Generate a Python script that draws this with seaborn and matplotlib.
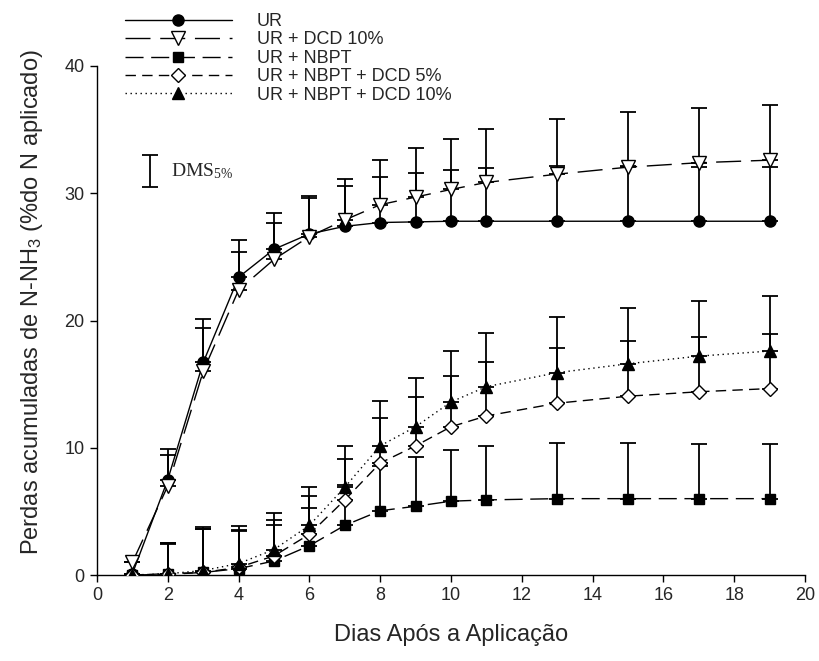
import numpy as np
import pandas as pd
import matplotlib
matplotlib.use("Agg")
import matplotlib.pyplot as plt
import seaborn as sns

# ---------------- data ----------------
days = [1, 2, 3, 4, 5, 6, 7, 8, 9, 10, 11, 13, 15, 17, 19]
ur = [0.1, 7.5, 16.7, 23.4, 25.6, 26.8, 27.4, 27.7, 27.75, 27.8, 27.8, 27.8, 27.8, 27.8, 27.8]
ur_dcd10 = [1.0, 7.0, 16.0, 22.4, 24.8, 26.6, 27.9, 29.1, 29.7, 30.3, 30.85, 31.5, 32.05, 32.4, 32.6]
ur_nbpt = [0.0, 0.05, 0.2, 0.5, 1.1, 2.3, 3.9, 5.05, 5.4, 5.8, 5.9, 6.0, 6.0, 6.0, 6.0]
ur_nbpt_dcd5 = [0.0, 0.1, 0.2, 0.6, 1.5, 3.2, 5.9, 8.8, 10.15, 11.65, 12.5, 13.5, 14.05, 14.4, 14.65]
ur_nbpt_dcd10 = [0.0, 0.1, 0.35, 0.9, 2.0, 3.9, 6.9, 10.15, 11.65, 13.6, 14.8, 15.9, 16.6, 17.2, 17.6]
# upper error (DMS) per day
dms = [0.0, 2.4, 3.4, 2.95, 2.85, 3.0, 3.2, 3.55, 3.85, 4.0, 4.2, 4.35, 4.35, 4.3, 4.3]

labels = ["UR", "UR + DCD 10%", "UR + NBPT", "UR + NBPT + DCD 5%", "UR + NBPT + DCD 10%"]
series = [ur, ur_dcd10, ur_nbpt, ur_nbpt_dcd5, ur_nbpt_dcd10]

xlabel = "Dias Após a Aplicação"
ylabel = "Perdas acumuladas de N-NH$\\mathregular{_3}$ (%do N aplicado)"
xticks = list(range(0, 21, 2))
yticks = [0, 10, 20, 30, 40]

# DMS key (legend-like I-beam)
dms_key_x, dms_key_y, dms_key_half = 1.5, 31.75, 1.25

# ---------------- style ----------------
sns.set_theme(style="ticks")
plt.rcParams["font.family"] = ["Liberation Sans", "DejaVu Sans"]

styles = [
    dict(marker="o", mfc="black", ms=8, dashes=None),
    dict(marker="v", mfc="white", ms=9.5, dashes=(18, 7)),
    dict(marker="s", mfc="black", ms=7.5, dashes=(13, 5.5)),
    dict(marker="D", mfc="white", ms=7, dashes=(7.5, 4.5)),
    dict(marker="^", mfc="black", ms=9, dashes=(1, 2.6)),
]

fig = plt.figure(figsize=(8.19, 6.61), dpi=100)
ax = fig.add_axes([97 / 819, 1 - 575 / 661, (805 - 97) / 819, (575 - 66) / 661])

handles = []
for lab, vals, st in zip(labels, series, styles):
    ax.errorbar(days, vals, yerr=[np.zeros(len(dms)), dms], fmt="none",
                ecolor="black", elinewidth=1.3, capsize=5.5, capthick=1.3, zorder=2)
    n_before = len(ax.lines)
    sns.lineplot(x=days, y=vals, ax=ax, color="black", linewidth=1.0,
                 marker=st["marker"], markersize=st["ms"], markerfacecolor=st["mfc"],
                 markeredgecolor="black", markeredgewidth=1.0, errorbar=None,
                 sort=False, label=lab, legend=False, zorder=3)
    line = ax.lines[n_before]
    if st["dashes"] is not None:
        line.set_dashes(st["dashes"])
    handles.append(line)

# DMS key
ax.errorbar([dms_key_x], [dms_key_y], yerr=[[dms_key_half], [dms_key_half]], fmt="none",
            ecolor="black", elinewidth=1.3, capsize=5.5, capthick=1.3, clip_on=False)
ax.text(2.1, dms_key_y, "DMS$\\mathregular{_{5\\%}}$", family=["Liberation Serif"],
        fontsize=14, va="center", ha="left")

ax.set_xlim(0, 20)
ax.set_ylim(0, 40)
ax.set_xticks(xticks)
ax.set_yticks(yticks)
ax.tick_params(axis="both", direction="out", length=5, width=1, labelsize=13, pad=4, color="black")
ax.set_xlabel(xlabel, fontsize=17, labelpad=14)
ax.set_ylabel(ylabel, fontsize=17, labelpad=14)
ax.yaxis.label.set_y(0.536)
for s in ["left", "bottom"]:
    ax.spines[s].set_color("black")
    ax.spines[s].set_linewidth(1.0)
sns.despine(ax=ax)
ax.grid(False)

leg = ax.legend(handles=handles, labels=labels, loc="upper left",
                bbox_to_anchor=(125 / 819, 1 - 13 / 661), bbox_transform=fig.transFigure,
                frameon=False, fontsize=13, handlelength=5.9, handletextpad=1.4,
                labelspacing=0.08, borderpad=0, borderaxespad=0)
leg.set_zorder(5)

fig.savefig("out.png", dpi=100)
